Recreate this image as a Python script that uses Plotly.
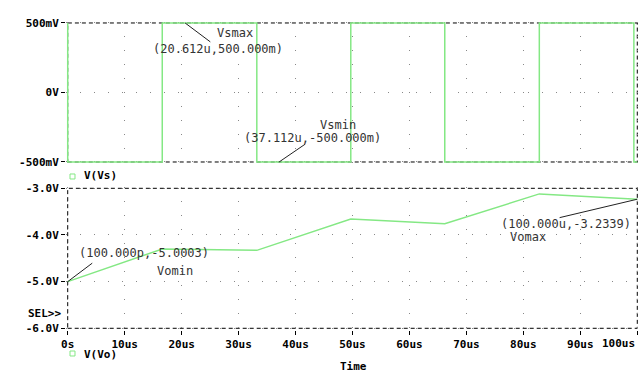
import plotly.graph_objects as go

# ---- data (time in microseconds) ----
vs_time_us = [0, 0, 16.6, 33.2, 49.7, 66.2, 82.8, 99.4, 100]
vs_volts = [0.5, -0.5, 0.5, -0.5, 0.5, -0.5, 0.5, -0.5, -0.5]

vo_time_us = [0.0001, 16.6, 33.2, 49.7, 66.2, 82.8, 100]
vo_volts = [-5.0003, -4.30, -4.33, -3.66, -3.76, -3.12, -3.2339]

x_ticks = [0, 10, 20, 30, 40, 50, 60, 70, 80, 90, 100]
x_ticktext = ["0s", "10us", "20us", "30us", "40us", "50us", "60us", "70us", "80us", "90us", "100us"]
vs_ticks = [-0.5, 0, 0.5]
vs_ticktext = ["-500mV", "0V", "500mV"]
vo_ticks = [-6, -5, -4, -3]
vo_ticktext = ["-6.0V", "-5.0V", "-4.0V", "-3.0V"]

GREEN = "#84e884"
MONO = "DejaVu Sans Mono"
TICKFONT = dict(family=MONO, size=11, color="black", weight="bold")
LABFONT = dict(family=MONO, size=12, color="#333333")

fig = go.Figure()
fig.add_trace(go.Scatter(x=vs_time_us, y=vs_volts, mode="lines", line=dict(color=GREEN, width=1.5, shape="hv"),
                         xaxis="x2", yaxis="y2", showlegend=False))
fig.add_trace(go.Scatter(x=vo_time_us, y=vo_volts, mode="lines", line=dict(color=GREEN, width=1.5),
                         xaxis="x", yaxis="y", showlegend=False))

grid = dict(showgrid=True, gridcolor="#888888", gridwidth=1, griddash="1px,13px")

# last tick label is drawn right-aligned (as in the reference) via an annotation
shown_ticktext = x_ticktext[:-1] + [""]

fig.update_layout(
    width=642, height=373,
    margin=dict(l=66, r=3, t=21, b=43),
    paper_bgcolor="white", plot_bgcolor="white",
    xaxis=dict(domain=[0, 1], range=[-0.3, 100.3], anchor="y", tickvals=x_ticks, ticktext=shown_ticktext,
               tickfont=TICKFONT, ticks="outside", ticklen=4, tickcolor="black", showline=False,
               zeroline=False, automargin=False, **grid),
    yaxis=dict(domain=[0.001, 0.4631], range=[-6.03, -2.97], anchor="x", tickvals=vo_ticks,
               ticktext=vo_ticktext, tickfont=TICKFONT, ticks="outside", ticklen=4, tickcolor="black",
               showline=False, zeroline=False, automargin=False, **grid),
    xaxis2=dict(domain=[0, 1], range=[-0.3, 100.3], anchor="y2", tickvals=x_ticks, showticklabels=False,
                ticks="", showline=False, zeroline=False, automargin=False, **grid),
    yaxis2=dict(domain=[0.5392, 0.9981], range=[-0.51, 0.51], anchor="x2", tickvals=vs_ticks,
                ticktext=vs_ticktext, tickfont=TICKFONT, ticks="outside", ticklen=4, tickcolor="black",
                showline=False, zeroline=False, automargin=False, **grid),
)

fig.add_annotation(x=x_ticks[-1], y=0, xref="x", yref="paper", text=x_ticktext[-1], showarrow=False,
                   font=TICKFONT, xanchor="right", yanchor="top", yshift=-5)

# dashed frames at the data limits
fig.add_shape(type="rect", xref="x", yref="y", x0=0, x1=100, y0=-6, y1=-3,
              line=dict(color="black", width=1, dash="4px,3px"), layer="below")
fig.add_shape(type="rect", xref="x2", yref="y2", x0=0, x1=100, y0=-0.5, y1=0.5,
              line=dict(color="black", width=1, dash="4px,3px"), layer="below")

# cursor annotations
def label(x, y, text, xref, yref):
    fig.add_annotation(x=x, y=y, xref=xref, yref=yref, text=text, showarrow=False,
                       font=LABFONT, xanchor="center", yanchor="middle", borderpad=0)

def leader(x, y, ax, ay, xref, yref):
    fig.add_annotation(x=x, y=y, xref=xref, yref=yref, ax=ax, ay=ay, axref=xref, ayref=yref,
                       text="", showarrow=True, arrowhead=0, arrowwidth=1, arrowcolor="#222222")

label(29.3, 0.43, "Vsmax", "x2", "y2")
label(26.4, 0.315, "(20.612u,500.000m)", "x2", "y2")
leader(20.612, 0.5, 25.3, 0.356, "x2", "y2")

label(47.5, -0.235, "Vsmin", "x2", "y2")
label(42.9, -0.325, "(37.112u,-500.000m)", "x2", "y2")
leader(37.112, -0.5, 42.0, -0.363, "x2", "y2")

label(13.36, -4.386, "(100.000p,-5.0003)", "x", "y")
label(18.8, -4.77, "Vomin", "x", "y")
leader(0.0001, -5.0003, 4.57, -4.58, "x", "y")

label(87.5, -3.765, "(100.000u,-3.2339)", "x", "y")
label(80.8, -4.04, "Vomax", "x", "y")
leader(100, -3.2339, 86.1, -3.636, "x", "y")

# legends
for y0, y1, ty, txt in [(0.4887, 0.5049, 0.4984, "V(Vs)"), (-0.0841, -0.068, -0.0777, "V(Vo)")]:
    fig.add_shape(type="rect", xref="paper", yref="paper", x0=0.007, x1=0.0157, y0=y0, y1=y1,
                  line=dict(color=GREEN, width=1), fillcolor="rgba(0,0,0,0)")
    fig.add_annotation(x=0.0279, y=ty, xref="paper", yref="paper", text=txt, showarrow=False,
                       font=TICKFONT, xanchor="left", yanchor="middle")

fig.add_annotation(x=-0.0052, y=0.0518, xref="paper", yref="paper", text="SEL>>", showarrow=False,
                   font=TICKFONT, xanchor="right", yanchor="middle")
fig.add_annotation(x=0.5009, y=-0.1197, xref="paper", yref="paper", text="Time", showarrow=False,
                   font=TICKFONT, xanchor="center", yanchor="middle")

fig.write_html("out.html", config={"displayModeBar": False},
               post_script="document.body.style.margin='0px';")
